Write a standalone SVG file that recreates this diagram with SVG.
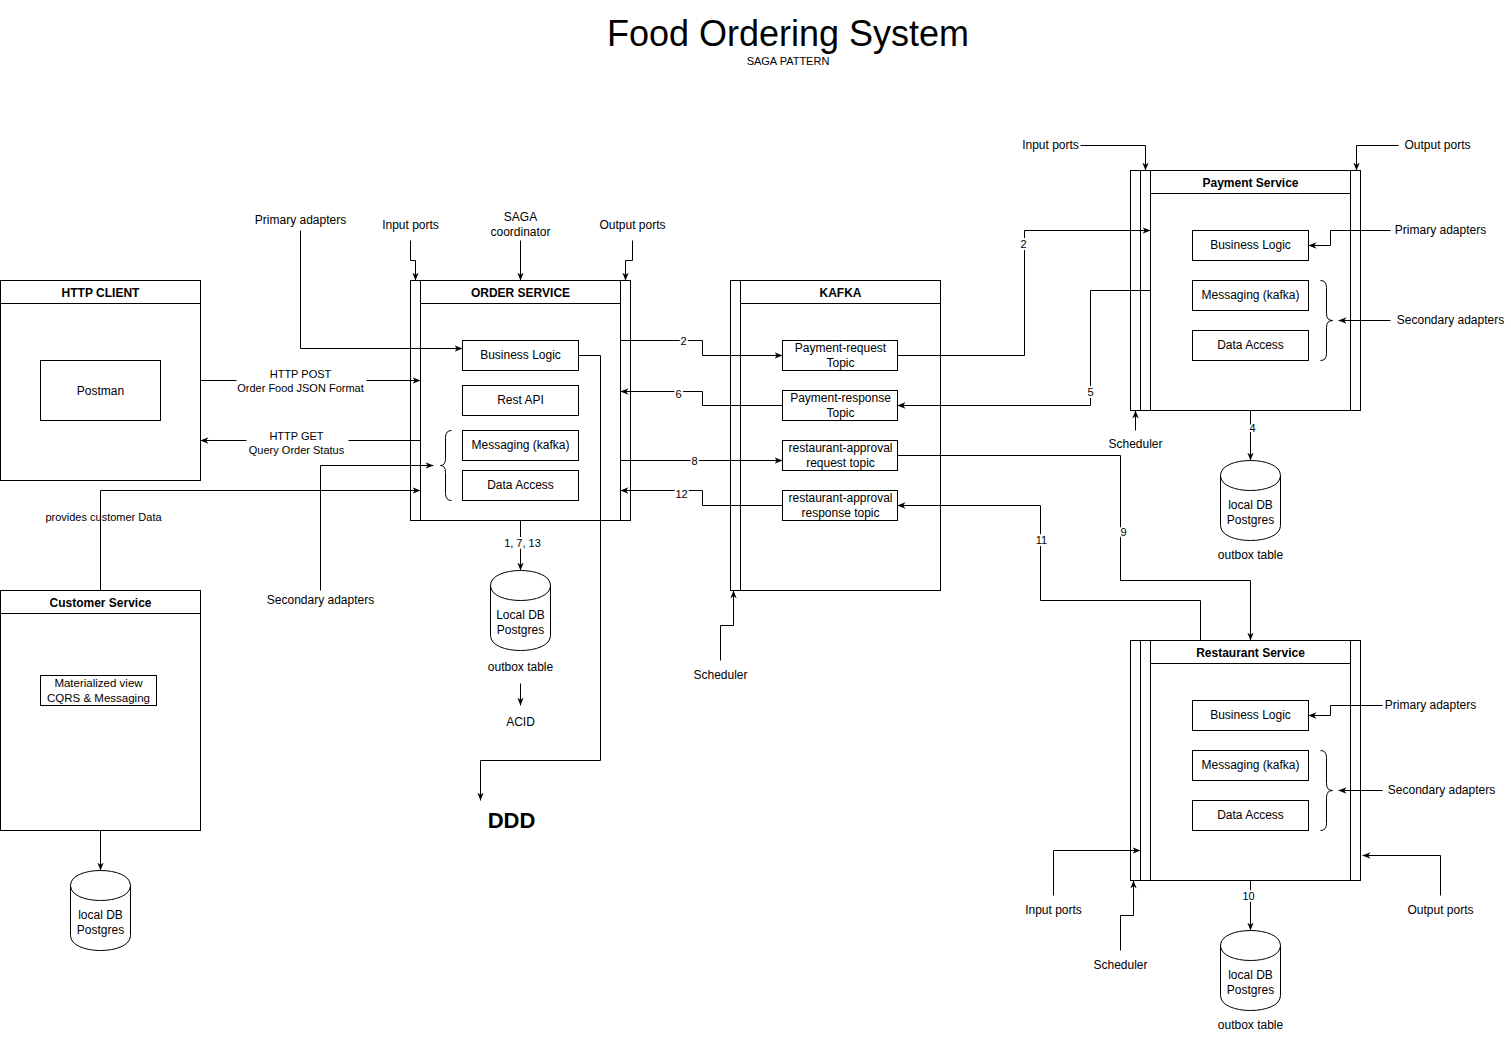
<svg xmlns="http://www.w3.org/2000/svg" width="1511" height="1040" viewBox="0 0 1511 1040">
<defs>
<marker id="ah" viewBox="0 0 10 10" refX="10" refY="5" markerWidth="8" markerHeight="8" markerUnits="userSpaceOnUse" orient="auto">
<path d="M0,1 L10,5 L0,9 L3,5 Z" fill="#000"/>
</marker>
<style>
.b{fill:none;stroke:#000;stroke-width:1}
.w{fill:#fff;stroke:#000;stroke-width:1}
.c{fill:none;stroke:#000;stroke-width:1;marker-end:url(#ah)}
.t{font-family:"Liberation Sans",Arial,sans-serif;font-size:12px;text-anchor:middle;fill:#000}
.s{font-size:11px}
.h{font-weight:bold}
.l{stroke:#fff;stroke-width:4;stroke-linejoin:round;paint-order:stroke}
</style>
</defs>
<rect x="0" y="0" width="1511" height="1040" fill="#fff"/>
<g id="title">
<text class="t" x="788" y="46" style="font-size:36px">Food Ordering System</text>
<text class="t s" x="788" y="65">SAGA PATTERN</text>
</g>
<g transform="translate(0.5,0.5)">
<g id="connectors">
<path class="c" d="M300,230 V348 H462"/>
<path class="c" d="M410,240 V260 H415 V280"/>
<path class="c" d="M520,240 V280"/>
<path class="c" d="M632,240 V260 H625 V280"/>
<path class="c" d="M200,380 H420"/>
<path class="c" d="M420,440 H200"/>
<path class="c" d="M100,590 V490 H420"/>
<path class="c" d="M320,590 V465 H433"/>
<path class="c" d="M578,355 H600 V760 H480 V800"/>
<path class="c" d="M520,520 V570"/>
<path class="c" d="M520,683 V705"/>
<path class="c" d="M720,660 V625 H733 V590"/>
<path class="c" d="M620,340 H702 V355 H782"/>
<path class="c" d="M782,405 H702 V391 H620"/>
<path class="c" d="M620,460 H782"/>
<path class="c" d="M782,505 H702 V490 H620"/>
<path class="c" d="M897,355 H1024 V230 H1150"/>
<path class="c" d="M1150,290 H1090 V405 H897"/>
<path class="c" d="M897,455 H1120 V580 H1250 V640"/>
<path class="c" d="M1200,640 V600 H1040 V505 H897"/>
<path class="c" d="M1080,145 H1145 V170"/>
<path class="c" d="M1398,145 H1356 V170"/>
<path class="c" d="M1390,230 H1330 V245 H1308"/>
<path class="c" d="M1390,320 H1338"/>
<path class="c" d="M1135,430 V410"/>
<path class="c" d="M1250,410 V460"/>
<path class="c" d="M1382,705 H1330 V715 H1308"/>
<path class="c" d="M1382,790 H1338"/>
<path class="c" d="M1053,895 V850 H1140"/>
<path class="c" d="M1440,895 V855 H1362"/>
<path class="c" d="M1120,950 V915 H1133 V880"/>
<path class="c" d="M1250,880 V930"/>
<path class="c" d="M100,830 V870"/>
</g>
<g id="connector-labels">
<rect x="236" y="365" width="130" height="30" fill="#fff"/>
<text class="t s" x="300" y="377">HTTP POST</text>
<text class="t s" x="300" y="391">Order Food JSON Format</text>
<rect x="246" y="428" width="102" height="28" fill="#fff"/>
<text class="t s" x="296" y="439">HTTP GET</text>
<text class="t s" x="296" y="453">Query Order Status</text>
<text class="t s" x="103" y="520">provides customer Data</text>
<text class="t s l" x="522" y="546">1, 7, 13</text>
<text class="t s l" x="683" y="344">2</text>
<text class="t s l" x="678" y="397">6</text>
<text class="t s l" x="694" y="464">8</text>
<text class="t s l" x="681" y="497">12</text>
<text class="t s l" x="1023" y="247">2</text>
<text class="t s l" x="1090" y="395">5</text>
<text class="t s l" x="1123" y="535">9</text>
<text class="t s l" x="1041" y="543">11</text>
<text class="t s l" x="1252" y="431">4</text>
<text class="t s l" x="1248" y="899">10</text>
</g>
<g id="labels">
<text class="t" x="300" y="223">Primary adapters</text>
<text class="t" x="410" y="228">Input ports</text>
<text class="t" x="520" y="220">SAGA</text>
<text class="t" x="520" y="235">coordinator</text>
<text class="t" x="632" y="228">Output ports</text>
<text class="t" x="320" y="603">Secondary adapters</text>
<text class="t" x="520" y="670">outbox table</text>
<text class="t" x="520" y="725">ACID</text>
<text class="t h" x="511" y="827" style="font-size:22px">DDD</text>
<text class="t" x="720" y="678">Scheduler</text>
<text class="t" x="1050" y="148">Input ports</text>
<text class="t" x="1437" y="148">Output ports</text>
<text class="t" x="1440" y="233">Primary adapters</text>
<text class="t" x="1450" y="323">Secondary adapters</text>
<text class="t" x="1135" y="447">Scheduler</text>
<text class="t" x="1250" y="558">outbox table</text>
<text class="t" x="1430" y="708">Primary adapters</text>
<text class="t" x="1441" y="793">Secondary adapters</text>
<text class="t" x="1053" y="913">Input ports</text>
<text class="t" x="1440" y="913">Output ports</text>
<text class="t" x="1120" y="968">Scheduler</text>
<text class="t" x="1250" y="1028">outbox table</text>
</g>
<g id="http-client">
<rect class="w" x="0" y="280" width="200" height="200"/>
<path class="b" d="M0,303 H200"/>
<text class="t h" x="100" y="296">HTTP CLIENT</text>
<rect class="w" x="40" y="360" width="120" height="60"/>
<text class="t" x="100" y="394">Postman</text>
</g>
<g id="customer-service">
<rect class="w" x="0" y="590" width="200" height="240"/>
<path class="b" d="M0,613 H200"/>
<text class="t h" x="100" y="606">Customer Service</text>
<rect class="w" x="40" y="675" width="116" height="30"/>
<text class="t" x="98" y="686" style="font-size:11.5px">Materialized view</text>
<text class="t" x="98" y="701" style="font-size:11.5px">CQRS &amp; Messaging</text>
</g>
<g id="customer-db">
<path class="w" d="M70,885 C70,865 130,865 130,885 L130,935 C130,955 70,955 70,935 Z"/>
<path class="b" d="M70,885 C70,905 130,905 130,885"/>
<text class="t" x="100" y="918">local DB</text>
<text class="t" x="100" y="933">Postgres</text>
</g>
<g id="order-service">
<rect class="b" x="410" y="280" width="220" height="240"/>
<path class="b" d="M420,280 V520 M620,280 V520 M420,303 H620"/>
<text class="t h" x="520" y="296">ORDER SERVICE</text>
<rect class="w" x="462" y="340" width="116" height="30"/>
<text class="t" x="520" y="358">Business Logic</text>
<rect class="w" x="462" y="385" width="116" height="30"/>
<text class="t" x="520" y="403">Rest API</text>
<rect class="w" x="462" y="430" width="116" height="30"/>
<text class="t" x="520" y="448">Messaging (kafka)</text>
<rect class="w" x="462" y="470" width="116" height="30"/>
<text class="t" x="520" y="488">Data Access</text>
<path class="b" d="M451,430 Q445,430 445,437 L445,458 Q445,465 440,465 Q445,465 445,472 L445,493 Q445,500 451,500"/>
</g>
<g id="order-db">
<path class="w" d="M490,585 C490,565 550,565 550,585 L550,635 C550,655 490,655 490,635 Z"/>
<path class="b" d="M490,585 C490,605 550,605 550,585"/>
<text class="t" x="520" y="618">Local DB</text>
<text class="t" x="520" y="633">Postgres</text>
</g>
<g id="kafka">
<rect class="b" x="730" y="280" width="210" height="310"/>
<path class="b" d="M740,280 V590 M740,303 H940"/>
<text class="t h" x="840" y="296">KAFKA</text>
<rect class="w" x="782" y="340" width="115" height="30"/>
<text class="t" x="840" y="351">Payment-request</text>
<text class="t" x="840" y="366">Topic</text>
<rect class="w" x="782" y="390" width="115" height="30"/>
<text class="t" x="840" y="401">Payment-response</text>
<text class="t" x="840" y="416">Topic</text>
<rect class="w" x="782" y="440" width="115" height="30"/>
<text class="t" x="840" y="451">restaurant-approval</text>
<text class="t" x="840" y="466">request topic</text>
<rect class="w" x="782" y="490" width="115" height="30"/>
<text class="t" x="840" y="501">restaurant-approval</text>
<text class="t" x="840" y="516">response topic</text>
</g>
<g id="payment-service">
<rect class="b" x="1130" y="170" width="230" height="240"/>
<path class="b" d="M1140,170 V410 M1150,170 V410 M1350,170 V410 M1150,193 H1350"/>
<text class="t h" x="1250" y="186">Payment Service</text>
<rect class="w" x="1192" y="230" width="116" height="30"/>
<text class="t" x="1250" y="248">Business Logic</text>
<rect class="w" x="1192" y="280" width="116" height="30"/>
<text class="t" x="1250" y="298">Messaging (kafka)</text>
<rect class="w" x="1192" y="330" width="116" height="30"/>
<text class="t" x="1250" y="348">Data Access</text>
<path class="b" d="M1320,280 Q1326,280 1326,287 L1326,313 Q1326,320 1332,320 Q1326,320 1326,327 L1326,353 Q1326,360 1320,360"/>
</g>
<g id="payment-db">
<path class="w" d="M1220,475 C1220,455 1280,455 1280,475 L1280,525 C1280,545 1220,545 1220,525 Z"/>
<path class="b" d="M1220,475 C1220,495 1280,495 1280,475"/>
<text class="t" x="1250" y="508">local DB</text>
<text class="t" x="1250" y="523">Postgres</text>
</g>
<g id="restaurant-service">
<rect class="b" x="1130" y="640" width="230" height="240"/>
<path class="b" d="M1140,640 V880 M1150,640 V880 M1350,640 V880 M1150,663 H1350"/>
<text class="t h" x="1250" y="656">Restaurant Service</text>
<rect class="w" x="1192" y="700" width="116" height="30"/>
<text class="t" x="1250" y="718">Business Logic</text>
<rect class="w" x="1192" y="750" width="116" height="30"/>
<text class="t" x="1250" y="768">Messaging (kafka)</text>
<rect class="w" x="1192" y="800" width="116" height="30"/>
<text class="t" x="1250" y="818">Data Access</text>
<path class="b" d="M1320,750 Q1326,750 1326,757 L1326,783 Q1326,790 1332,790 Q1326,790 1326,797 L1326,823 Q1326,830 1320,830"/>
</g>
<g id="restaurant-db">
<path class="w" d="M1220,945 C1220,925 1280,925 1280,945 L1280,995 C1280,1015 1220,1015 1220,995 Z"/>
<path class="b" d="M1220,945 C1220,965 1280,965 1280,945"/>
<text class="t" x="1250" y="978">local DB</text>
<text class="t" x="1250" y="993">Postgres</text>
</g>
</g>
</svg>
